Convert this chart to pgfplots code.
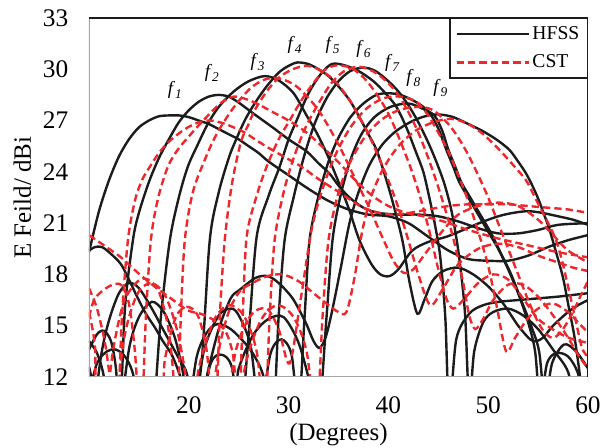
\documentclass[border=0pt]{standalone}
\usepackage{pgfplots}
\pgfplotsset{compat=1.18}
\usepackage{fontspec}
\setmainfont{Liberation Serif}
\definecolor{cstred}{RGB}{236,40,44}
\definecolor{hblk}{RGB}{28,28,28}
\pgfplotsset{
  hfss/.style={hblk, line width=1.8pt, smooth, tension=0.5, no markers, solid},
  cst/.style={cstred, line width=1.8pt, dash pattern=on 5.5pt off 3pt, smooth, tension=0.5, no markers},
}
\newcommand{\flab}[1]{{\fontsize{14}{16}\selectfont\textit{f}\raisebox{-3pt}{\fontsize{10}{11}\selectfont\textit{#1}}}}
\begin{document}
\begin{tikzpicture}
\path[use as bounding box] (-66.75pt,-53.25pt) rectangle (383.25pt,282.75pt);
\begin{axis}[
  at={(0pt,0pt)}, anchor=south west,
  width=374.25pt, height=269.25pt, scale only axis,
  xmin=10, xmax=60, ymin=12, ymax=33,
  xtick={20,30,40,50,60}, ytick={12,15,18,21,24,27,30,33},
  major tick length=0pt,
  axis line style={draw=none},
  tick label style={font=\fontsize{19}{21}\selectfont},
  /pgf/number format/assume math mode=true,
  yticklabel shift=12pt, xticklabel shift=11pt,
  xlabel={(Degrees)}, ylabel={E Feild/ dBi},
  label style={font=\fontsize{18.7}{21}\selectfont},
  xlabel style={at={(axis description cs:0.5,-0.1616)}, anchor=center},
  ylabel style={at={(axis description cs:-0.1336,0.5)}, anchor=center},
  legend style={at={(rel axis cs:1,1)}, anchor=north east, draw=hblk, line width=1pt, fill=white,
    font=\fontsize{14.7}{16}\selectfont, inner xsep=4pt, inner ysep=4pt, row sep=6pt,
    /tikz/every even column/.append style={column sep=4pt}},
  legend cell align=left,
  legend image code/.code={\draw[#1] (0pt,0pt) -- (54pt,0pt);},
]
\addlegendimage{hfss}\addlegendentry{HFSS}
\addlegendimage{cst}\addlegendentry{CST}
% HFSS
\addplot[hfss, forget plot] coordinates {(10,19.3) (11,21.7) (12,23.5) (13,24.9) (14,25.9) (15,26.6) (16,27.0) (17,27.25) (18,27.3) (19,27.3) (20,27.2) (21,27.0) (22,26.8) (23,26.5) (24,26.2) (25,25.9) (26,25.5) (27,25.1) (28,24.6) (30,23.8) (32,23.0) (34,22.3) (36,21.8) (38,21.5) (40,21.4) (42,21.0) (44,20.2) (46,19.4) (48,18.9) (50,18.8) (52,18.8) (54,19.1) (56,19.6) (58,20.0) (60,20.3)};
\addplot[hfss, forget plot] coordinates {(10,13.6) (10.8,14.5) (11.5,14.7) (12.2,14.1) (12.7,12.5) (13.1,9.5) (13.6,16.0) (14.4,20.0) (15,21.6) (16,23.4) (17,24.8) (18,25.9) (19,26.9) (20,27.6) (21,28.1) (22,28.4) (23,28.5) (24,28.4) (25,28.05) (26.5,27.4) (28.4,26.6) (30,25.9) (31.8,25.2) (33,24.5) (34.1,23.9) (35,23.2) (36.1,22.5) (37.5,21.9) (39,21.6) (41,21.5) (43,21.5) (45,21.4) (47,21.1) (49,20.7) (51,20.4) (53,20.4) (55,20.6) (57,20.9) (60,21.0)};
\addplot[hfss, forget plot] coordinates {(10,11.0) (10.8,12.8) (11.8,13.5) (12.7,13.6) (13.6,13.2) (14.4,12.2) (15.3,9.5) (16.3,9.0) (17.2,15.5) (18.1,20.0) (19.0,22.5) (19.9,24.3) (20.9,25.6) (21.9,26.8) (23,27.8) (24.5,28.7) (26,29.3) (27.6,29.6) (29,29.35) (30.5,28.6) (31.8,27.3) (32.8,26.3) (33.8,25.1) (34.8,23.7) (36,21.9) (37.1,20.0) (38.3,18.6) (39.2,18.0) (40.1,17.9) (41,18.3) (42.4,19.4) (44,19.9) (45.8,20.2) (47.5,20.6) (49.1,21.0) (51,21.4) (52.5,21.6) (54,21.7) (55.4,21.6) (57,21.4) (58.5,21.2) (60,20.9)};
\addplot[hfss, forget plot] coordinates {(10,19.4) (10.6,19.6) (11.3,19.6) (12.2,19.2) (13.2,18.6) (14.0,17.7) (14.9,16.6) (15.7,15.7) (16.6,14.9) (17.4,14.1) (18.2,13.4) (18.8,12.6) (19.4,11.5) (20.3,9.0) (21.3,13.0) (22.1,20.0) (23,22.8) (24,24.8) (24.6,25.7) (25.6,27.0) (26.6,28.0) (27.8,29.0) (29,29.8) (30,30.2) (30.9,30.4) (32,30.3) (33,30.0) (34,29.6) (35,29.0) (36.1,28.2) (37,27.3) (38,26.2) (38.8,25.3) (39.6,23.9) (40.4,22.3) (41.4,20.0) (42.1,17.6) (42.9,15.7) (43.6,16.5) (44.4,17.6) (45.5,18.2) (47,18.4) (48.5,18.0) (50,17.3) (51.5,16.3) (53,15.0) (54.2,14.2) (54.8,14.1) (55.5,14.3) (56.5,15.0) (58,15.8) (59,16.2) (60,16.5)};
\addplot[hfss, forget plot] coordinates {(10.3,9.0) (11.2,13.2) (12,15.3) (13,16.9) (14.0,17.5) (15,17.2) (16.3,16.0) (17.5,14.7) (18.9,13.2) (19.8,12.2) (20.8,9.5) (22.2,12.8) (23.3,13.3) (24.3,12.6) (25.2,9.5) (26.0,14.5) (26.8,20.2) (28,22.6) (29.1,24.3) (30,25.9) (30.8,27.0) (32,28.6) (33.2,29.7) (34.3,30.3) (35.5,30.25) (37,29.9) (38.5,29.3) (39.7,28.6) (40.8,27.8) (41.8,26.6) (42.8,25.1) (43.5,24.0) (44.1,22.5) (44.7,20.8) (45.2,19.0) (45.7,15.5) (46.1,10.0) (46.8,14.2) (48.1,15.7) (49.5,16.2) (51.1,16.4) (53,16.5) (55,16.6) (57,16.7) (58.5,16.8) (60,16.9)};
\addplot[hfss, forget plot] coordinates {(13.0,9.0) (14.0,13.6) (15.0,15.5) (16.3,16.4) (17.5,15.8) (18.6,14.3) (19.4,12.3) (19.9,10.0) (20.8,13.2) (21.8,14.6) (22.9,15.1) (24.2,14.8) (25.6,14.0) (26.5,13.3) (27.5,12.0) (28.4,9.0) (29.0,15.5) (29.6,20.0) (30.5,22.5) (31.5,24.8) (32.6,26.8) (33.8,28.3) (35,29.3) (36.2,29.9) (37.5,30.1) (38.7,29.9) (40,29.3) (41,28.7) (42,27.9) (43,26.9) (44,25.7) (44.8,24.6) (45.5,23.5) (46.0,22.5) (46.4,21.5) (46.9,19.8) (47.3,18.0) (47.7,15.5) (48.1,10.5) (48.6,13.5) (49.5,15.2) (50.5,15.8) (52,16.0) (53.5,15.6) (55,14.8) (56.5,13.6) (58.0,12.3) (58.8,10.0)};
\addplot[hfss, forget plot] coordinates {(20.3,9.0) (21.5,13.5) (23,15.6) (24.3,16.0) (25.1,15.5) (26.2,13.8) (27.1,10.0) (28.2,13.4) (29.3,14.2) (30.3,13.3) (31.0,10.0) (31.6,15.5) (32.1,20.0) (33,22.6) (34,24.6) (35,26.0) (36.2,27.2) (37.5,28.0) (38.8,28.5) (40,28.6) (41.2,28.5) (42.4,28.2) (43.5,27.8) (44.4,27.2) (45.1,26.4) (45.8,25.3) (46.5,24.3) (47.1,23.4) (48,22.5) (48.8,21.7) (50.1,20.4) (51,19.5) (52,18.3) (53,16.9) (54,15.2) (54.7,13.5) (55.2,10.5) (55.9,12.8) (56.8,13.4) (58,13.2) (59,12.2) (59.8,10.0)};
\addplot[hfss, forget plot] coordinates {(10,14.1) (10.8,13.4) (11.5,12.0) (12.2,9.0) (23.5,9.0) (25.0,12.5) (26.5,14.5) (28,15.4) (29.5,15.5) (31,14.0) (32.2,11.5) (33.0,9.5) (33.8,15.5) (34.4,20.0) (35.2,22.6) (36.2,24.7) (37.3,26.2) (38.6,27.2) (40.2,27.8) (42,28.0) (43.4,27.7) (44.6,27.3) (45.4,26.4) (46.0,25.3) (46.7,24.3) (47.3,23.4) (48.2,22.5) (49.0,21.7) (50.3,20.4) (51.3,19.2) (52.3,18.0) (53.3,16.5) (54.3,15.0) (55.1,13.5) (55.7,10.5) (56.4,12.8) (57.6,13.9) (58.8,13.5) (60,12.5)};
\addplot[hfss, forget plot] coordinates {(10,12.6) (10.5,11.2) (11,9) (20.5,9) (21.9,12.3) (23,14.8) (24.2,16.6) (25.1,17.1) (26.7,17.8) (27.9,17.9) (29,17.5) (30.4,16.6) (31.7,15.2) (32.5,14.1) (33.1,13.7) (33.7,14.3) (34.3,15.7) (35.2,18.3) (36.1,21.0) (37,22.8) (38.1,24.4) (39.4,25.6) (40.8,26.4) (42.5,27.0) (44,27.3) (45.2,27.35) (46.5,27.2) (48,26.8) (49.4,26.4) (50.8,25.9) (52.1,25.3) (53,24.6) (53.8,23.9) (54.5,23.1) (55.1,22.3) (55.6,21.5) (56.1,20.7) (56.8,19.3) (57.5,17.8) (58.1,16.0) (58.6,14.5) (59.1,12.5) (59.6,10.0)};
% CST
\addplot[cst, forget plot] coordinates {(10,17.2) (10.8,16.0) (11.6,14.0) (12.2,11.5) (12.8,9.0) (13.3,15.5) (13.9,20.0) (14.6,22.3) (15.3,23.5) (16.1,24.3) (17,25.1) (17.9,25.7) (18.9,26.2) (19.9,26.6) (21,26.9) (22.2,27.0) (23.4,26.85) (24.5,26.6) (25.6,26.3) (26.9,25.8) (28.3,25.3) (29.8,24.8) (31.3,24.3) (32.7,23.7) (34,23.2) (35.1,22.8) (36.1,22.4) (37.5,21.9) (39.1,21.6) (40.5,21.5) (42.1,21.6) (44,21.8) (46,22.0) (48,22.1) (50,22.1) (52,22.1) (54,22.0) (56,21.9) (58,21.8) (60,21.6)};
\addplot[cst, forget plot] coordinates {(10,15.5) (10.6,16.6) (12,17.3) (13.2,17.4) (14.0,16.3) (14.6,13.5) (15.2,9.0) (15.7,15.5) (16.2,20.0) (16.9,22.4) (17.9,24.3) (18.9,25.3) (19.9,26.0) (20.8,26.6) (21.6,27.1) (22.6,27.7) (23.5,28.15) (24.5,28.4) (25.5,28.3) (26.8,28.0) (28.4,27.5) (30,27.0) (31.8,26.3) (33.5,25.4) (35.1,24.5) (36.7,23.5) (38.4,22.6) (40,22.0) (41.8,21.6) (43.5,21.4) (45.5,21.1) (48,20.6) (51,20.1) (54,19.7) (57,19.3) (60,19.0)};
\addplot[cst, forget plot] coordinates {(11.5,9.0) (12.4,13.5) (13.5,16.4) (14.9,17.6) (15.9,17.7) (17.0,17.0) (17.9,15.0) (18.4,12.5) (18.8,9.0) (19.2,15.5) (19.6,20.0) (20.4,22.8) (21.6,24.7) (22.6,26.0) (23.6,27.0) (24.8,28.0) (26.2,28.9) (27.4,29.35) (28.5,29.5) (29.7,29.35) (31,28.9) (33,27.6) (35,25.6) (36.5,23.8) (38,22.0) (39.3,20.3) (40.5,18.8) (41.5,18.1) (42.5,18.3) (43.8,19.3) (45.5,20.6) (47,21.5) (49,22.0) (51,22.2) (53,22.0) (55,21.2) (56.5,20.3) (58,19.4) (60,18.7)};
\addplot[cst, forget plot] coordinates {(10,15.8) (10.6,13.8) (11.2,9.0) (16.8,9.0) (17.6,13.0) (18.7,15.5) (19.8,16.1) (20.9,15.6) (21.8,13.5) (22.6,9.0) (23.1,15.5) (23.6,20.0) (24.3,23.2) (25.2,25.7) (26.0,26.8) (26.6,27.6) (27.8,28.7) (29,29.5) (30.4,30.0) (31.8,30.2) (33,30.0) (34.5,29.4) (36,28.3) (37,27.3) (38,26.2) (39,24.9) (40,23.5) (41,21.9) (42,20.0) (43,18.0) (44.2,16.2) (45.5,17.2) (47,18.6) (49,19.5) (51,19.8) (53,19.6) (55,19.1) (57,18.7) (58.5,18.4) (60,18.2)};
\addplot[cst, forget plot] coordinates {(10,20.3) (11.5,19.7) (13.2,19.0) (14.5,18.3) (15.9,17.6) (17,17.1) (18.2,16.6) (19.9,15.9) (21.2,15.7) (22.3,15.4) (23.2,15.0) (23.9,14.4) (24.5,13.0) (25.0,9.5) (25.4,15.5) (25.8,20.2) (26.8,22.6) (27.8,24.3) (29,25.9) (30.1,27.0) (31.3,28.2) (32.5,29.2) (33.5,29.9) (34.5,30.2) (35.5,30.2) (36.5,30.0) (38,29.2) (40,27.4) (42,24.6) (43.2,22.5) (44.2,20.3) (45.0,18.3) (45.8,16.6) (46.5,16.0) (47.5,16.5) (49,17.5) (50.5,18.0) (52,17.7) (53.5,16.6) (55,15.4) (57,14.6) (58.5,14.2) (60,14.0)};
\addplot[cst, forget plot] coordinates {(12.5,9.0) (13.5,14.2) (14.8,16.8) (16.2,17.5) (17.6,16.8) (18.8,14.8) (19.7,12.0) (20.2,9.0) (21.0,12.5) (22.5,15.3) (24.0,16.2) (25.5,15.6) (26.8,13.5) (27.6,9.5) (28.1,15.5) (28.6,20.0) (29.5,22.8) (30.5,24.8) (31.7,26.6) (33,28.0) (34.3,29.2) (35.6,29.9) (37,30.15) (38.4,29.9) (39.8,29.3) (41,28.5) (42,27.5) (43,26.3) (44,24.8) (45,23.1) (46,21.2) (46.8,19.4) (47.5,17.5) (48.1,15.6) (48.7,14.8) (49.5,15.4) (50.5,16.5) (52,17.4) (53.5,17.4) (55,16.7) (56.5,15.6) (58,14.3) (59,13.3) (60,12.5)};
\addplot[cst, forget plot] coordinates {(23.5,9.0) (24.7,13.5) (26.2,15.6) (27.8,16.0) (29.0,14.8) (30.1,12.8) (31.2,16.5) (32.3,20.6) (33.4,23.0) (34.7,25.0) (36.2,26.6) (37.8,27.7) (39.5,28.3) (41.2,28.4) (42.8,28.1) (44,27.3) (45,26.3) (46,25.2) (47,23.8) (48,22.3) (49,20.5) (50,18.5) (50.9,16.0) (51.8,13.5) (52.7,14.3) (53.8,15.3) (55,16.0) (56.5,16.3) (58,15.8) (59,15.2) (60,14.6)};
\addplot[cst, forget plot] coordinates {(24.5,9.0) (25.8,13.0) (27.3,15.4) (28.9,16.2) (30.5,15.5) (31.8,13.5) (32.8,9.5) (33.4,15.5) (34.0,20.0) (35,22.8) (36.2,24.6) (37.6,26.0) (39.2,27.0) (41,27.6) (43,27.8) (44.5,27.6) (46,26.8) (47,26.0) (48,25.0) (49,23.8) (50,22.5) (51,21.0) (52,19.5) (53,18.0) (54,16.5) (55,15.2) (55.8,14.5) (56.6,14.3) (57.5,14.8) (58.5,15.8) (59.3,16.8) (60,17.6)};
\addplot[cst, forget plot] coordinates {(22,9.0) (23,13.5) (24,15.8) (25.1,17.0) (26.4,17.5) (27.9,17.9) (29.4,18.0) (31,17.6) (32.5,16.9) (34,16.2) (35.0,15.8) (35.8,15.8) (36.6,17.8) (37.4,20.6) (38.3,22.6) (39.5,24.2) (41,25.5) (42.7,26.4) (44.5,26.9) (46.3,27.1) (48,26.8) (49.5,26.2) (51.1,25.3) (52.5,24.4) (53.8,23.5) (54.6,22.6) (55.4,21.7) (56.1,20.9) (56.8,20.0) (57.4,18.8) (58,17.3) (58.7,15.5) (59.4,13.7) (60,13.2)};
% frame
\draw[black!35, line width=1.5pt] (rel axis cs:0,1) -- (rel axis cs:0,0) -- (rel axis cs:1,0);
\draw[hblk, line width=1pt] (rel axis cs:0,1) -- (rel axis cs:1,1) -- (rel axis cs:1,0);
% labels
\node at (axis cs:18.6,28.8) {\flab{1}};
\node at (axis cs:22.3,29.8) {\flab{2}};
\node at (axis cs:26.9,30.4) {\flab{3}};
\node at (axis cs:30.6,31.4) {\flab{4}};
\node at (axis cs:34.4,31.4) {\flab{5}};
\node at (axis cs:37.5,31.2) {\flab{6}};
\node at (axis cs:40.4,30.4) {\flab{7}};
\node at (axis cs:42.5,29.5) {\flab{8}};
\node at (axis cs:45.2,28.9) {\flab{9}};
\end{axis}
\end{tikzpicture}
\end{document}
